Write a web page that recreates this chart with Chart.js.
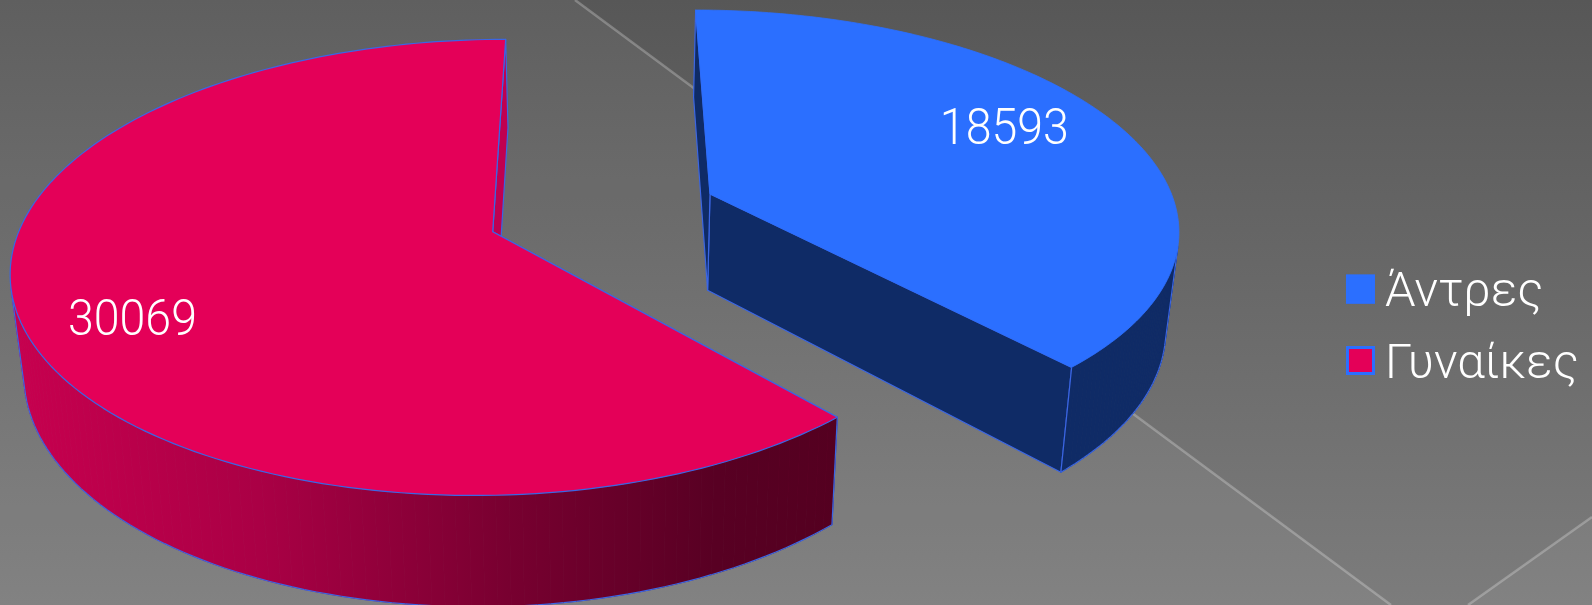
<!DOCTYPE html>
<html>
<head>
<meta charset="utf-8">
<style>html,body{margin:0;padding:0;background:#666;overflow:hidden}canvas{display:block}</style>
<script src="https://cdn.jsdelivr.net/npm/chart.js@4"></script>
</head>
<body>
<canvas id="c" width="1592" height="605" style="width:1592px;height:605px"></canvas>
<script>
const categories = ['Άντρες', 'Γυναίκες'];
const values = [18593, 30069];
const topColors = ['#2b6fff', '#e40058'];
const edgeColor = '#3b66e4';
const FONT = 'Roboto, "Open Sans", sans-serif';

// Perspective of each exploded slice (apex, spread, tilt) and where its label sits on the disc
const slices = [
  {ax:710, ay:194, A:461, Ar:461.5, B:210.2, E:16.4, k:0.1426, label:[0.677,-0.31], side:'#0f2b66', radial:'#0f2b66'},
  {ax:492.7, ay:231.7, A:474, Ar:468, B:222.5, E:-15, k:0.1565, label:[-0.702,0.385], side:null, radial:'#c00050'}
];

function project(s,u,v){
  const w = 1 - s.k*v;
  return [s.ax + ((u>0?s.Ar:s.A)*u + s.E*v)/w, s.ay + s.B*v/w];
}
function drop(p){
  return [p[0] + 0.0231*(606-p[0]), p[1] + 86.5 + 0.05*p[1]];
}
function poly(ctx,pts){
  ctx.beginPath();
  pts.forEach((p,i)=> i? ctx.lineTo(p[0],p[1]) : ctx.moveTo(p[0],p[1]));
}

const backdrop = {
  id:'backdrop',
  beforeDraw(chart){
    const ctx = chart.ctx;
    const g = ctx.createLinearGradient(0,0,0,605);
    g.addColorStop(0,'#575757');
    g.addColorStop(1,'#7c7c7c');
    ctx.save();
    ctx.fillStyle = g;
    ctx.fillRect(0,0,1592,605);
    ctx.fillStyle = 'rgba(255,255,255,0.05)';
    poly(ctx,[[0,0],[575,0],[1391,605],[0,605]]); ctx.closePath(); ctx.fill();
    poly(ctx,[[1468,605],[1592,517],[1592,605]]); ctx.closePath(); ctx.fill();
    ctx.strokeStyle = 'rgba(255,255,255,0.25)';
    ctx.lineWidth = 2.5;
    poly(ctx,[[575,0],[1391,605]]); ctx.stroke();
    poly(ctx,[[1468,605],[1592,517]]); ctx.stroke();
    ctx.restore();
  }
};

const solid = {
  id:'solid',
  beforeDatasetsDraw(chart){
    const ctx = chart.ctx;
    const meta = chart.getDatasetMeta(0);
    ctx.save();
    ctx.lineJoin = 'round';
    meta.data.forEach((el,i)=>{
      const s = slices[i];
      const N = 160, rim = [];
      for(let j=0;j<=N;j++){
        const a = el.startAngle + (el.endAngle-el.startAngle)*j/N;
        rim.push(project(s,Math.cos(a),Math.sin(a)));
      }
      const low = rim.map(drop);
      const apex = project(s,0,0), apexLow = drop(apex);
      let fill = s.side;
      if(!fill){
        const g = ctx.createLinearGradient(10,0,840,0);
        g.addColorStop(0,'#c8004f');
        g.addColorStop(0.3,'#aa0045');
        g.addColorStop(0.6,'#780030');
        g.addColorStop(0.85,'#580023');
        g.addColorStop(1,'#540020');
        fill = g;
      }
      // radial walls
      ctx.lineWidth = 1.2;
      ctx.strokeStyle = edgeColor;
      ctx.fillStyle = s.radial;
      poly(ctx,[apex,rim[N],low[N],apexLow]); ctx.closePath(); ctx.fill(); ctx.stroke();
      poly(ctx,[apex,rim[0],low[0],apexLow]); ctx.closePath(); ctx.fill(); ctx.stroke();
      // curved wall, only the strips that face the viewer
      const faces = [];
      for(let j=0;j<N;j++){
        const c = (rim[j+1][0]-rim[j][0])*(low[j][1]-rim[j][1]) - (rim[j+1][1]-rim[j][1])*(low[j][0]-rim[j][0]);
        faces.push(c<0);
      }
      ctx.fillStyle = fill; ctx.strokeStyle = fill; ctx.lineWidth = 0.8;
      for(let j=0;j<N;j++){
        if(!faces[j]) continue;
        poly(ctx,[rim[j],rim[j+1],low[j+1],low[j]]); ctx.closePath(); ctx.fill(); ctx.stroke();
      }
      // outlines of the wall
      ctx.strokeStyle = edgeColor; ctx.lineWidth = 1.2;
      for(let j=0;j<N;j++){
        if(faces[j]){ poly(ctx,[low[j],low[j+1]]); ctx.stroke(); }
        if(j>0 && faces[j]!==faces[j-1]){ poly(ctx,[rim[j],low[j]]); ctx.stroke(); }
      }
      if(faces[N-1]){ poly(ctx,[rim[N],low[N]]); ctx.stroke(); }
      if(faces[0]){ poly(ctx,[rim[0],low[0]]); ctx.stroke(); }
      // top face
      ctx.fillStyle = topColors[i];
      poly(ctx,[apex].concat(rim)); ctx.closePath(); ctx.fill();
      ctx.strokeStyle = i===0 ? topColors[0] : edgeColor;
      ctx.lineWidth = i===0 ? 0.8 : 1.2;
      ctx.stroke();
      // value label
      const lp = project(s,s.label[0],s.label[1]);
      ctx.save();
      ctx.font = '300 50px '+FONT;
      ctx.fillStyle = '#fff';
      ctx.textAlign = 'center';
      ctx.textBaseline = 'middle';
      ctx.translate(lp[0],lp[1]);
      ctx.scale(0.93,1);
      ctx.fillText(String(values[i]),0,0);
      ctx.restore();
    });
    ctx.restore();
    return false;
  }
};

// Legend swatches sit closer to the text than the library's gap allows
const swatches = {
  id:'swatches',
  afterDraw(chart){
    const ctx = chart.ctx;
    ctx.save();
    chart.legend.legendHitBoxes.forEach((h,i)=>{
      const x = h.left - 14.5, y = h.top + h.height/2 - 5 - 14.5;
      ctx.fillStyle = topColors[i];
      ctx.fillRect(x,y,29,29);
      ctx.strokeStyle = topColors[0];
      ctx.lineWidth = 3;
      ctx.strokeRect(x+1.5,y+1.5,26,26);
    });
    ctx.restore();
  }
};

new Chart(document.getElementById('c').getContext('2d'),{
  type:'pie',
  data:{labels:categories,datasets:[{data:values,backgroundColor:topColors,borderColor:[topColors[0],edgeColor],borderWidth:3}]},
  plugins:[backdrop,solid,swatches],
  options:{
    responsive:false,
    animation:false,
    layout:{padding:{top:54.6,right:3}},
    plugins:{
      tooltip:{enabled:false},
      legend:{
        position:'right',
        labels:{
          color:'#fff',
          boxWidth:0,
          boxHeight:0,
          padding:22.4,
          font:{family:FONT,size:49,weight:'300'}
        }
      }
    }
  }
});
</script>
</body>
</html>
